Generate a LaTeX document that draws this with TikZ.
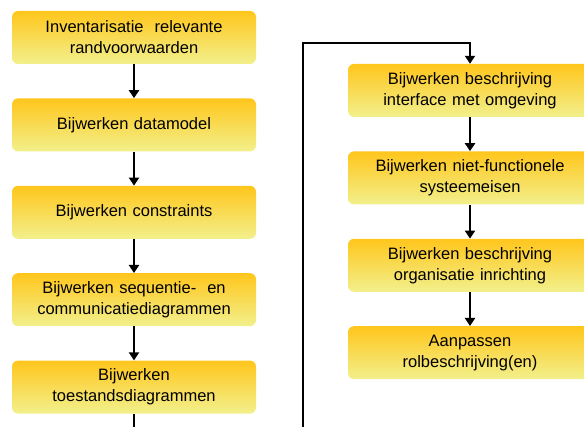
\documentclass[tikz,border=0pt]{standalone}
\usepackage{fontspec}
\setmainfont{Liberation Sans}
\usepackage{tikz}
\usetikzlibrary{arrows.meta,positioning,shadings}
\definecolor{boxtop}{RGB}{255,198,28}
\definecolor{boxbottom}{RGB}{242,240,140}

\begin{document}
\begin{tikzpicture}[
    x=1pt, y=-1pt,
    node distance=34pt,
    box/.style={rectangle, rounded corners=6pt, minimum width=244pt, minimum height=53pt,
        text width=240pt, align=center, inner sep=2pt,
        top color=boxtop, bottom color=boxbottom, font=\fontsize{16.5}{21}\selectfont},
    arr/.style={-{Triangle[length=8pt, width=10pt]}, line width=2.6pt, black}
]
    \useasboundingbox (0,0) rectangle (584,427);
    \clip (0,0) rectangle (584,427);

    % Linker kolom
    \node[box] (inventarisatie) at (134,37.5) {Inventarisatie\ \ relevante\\randvoorwaarden};
    \node[box, below=of inventarisatie] (datamodel) {Bijwerken datamodel};
    \node[box, below=of datamodel] (constraints) {Bijwerken constraints};
    \node[box, below=of constraints] (sequentie) {Bijwerken sequentie-\ \ en\\communicatiediagrammen};
    \node[box, below=of sequentie] (toestand) {Bijwerken\\toestandsdiagrammen};

    % Rechter kolom
    \node[box] (interface) at (470,90.5) {Bijwerken beschrijving\\interface met omgeving};
    \node[box, below=of interface] (nietfunc) {Bijwerken niet-functionele\\systeemeisen};
    \node[box, below=of nietfunc] (organisatie) {Bijwerken beschrijving\\organisatie inrichting};
    \node[box, below=of organisatie] (rollen) {Aanpassen\\rolbeschrijving(en)};

    % Pijlen
    \draw[arr] (inventarisatie) -- (datamodel);
    \draw[arr] (datamodel) -- (constraints);
    \draw[arr] (constraints) -- (sequentie);
    \draw[arr] (sequentie) -- (toestand);
    \draw[arr] (interface) -- (nietfunc);
    \draw[arr] (nietfunc) -- (organisatie);
    \draw[arr] (organisatie) -- (rollen);

    % Overgang naar rechter kolom
    \coordinate (omlaag) at (303,450);
    \coordinate (omhoog) at (303,43);
    \draw[arr] (toestand.south) |- (omlaag) -- (omhoog) -| (interface.north);
\end{tikzpicture}
\end{document}
